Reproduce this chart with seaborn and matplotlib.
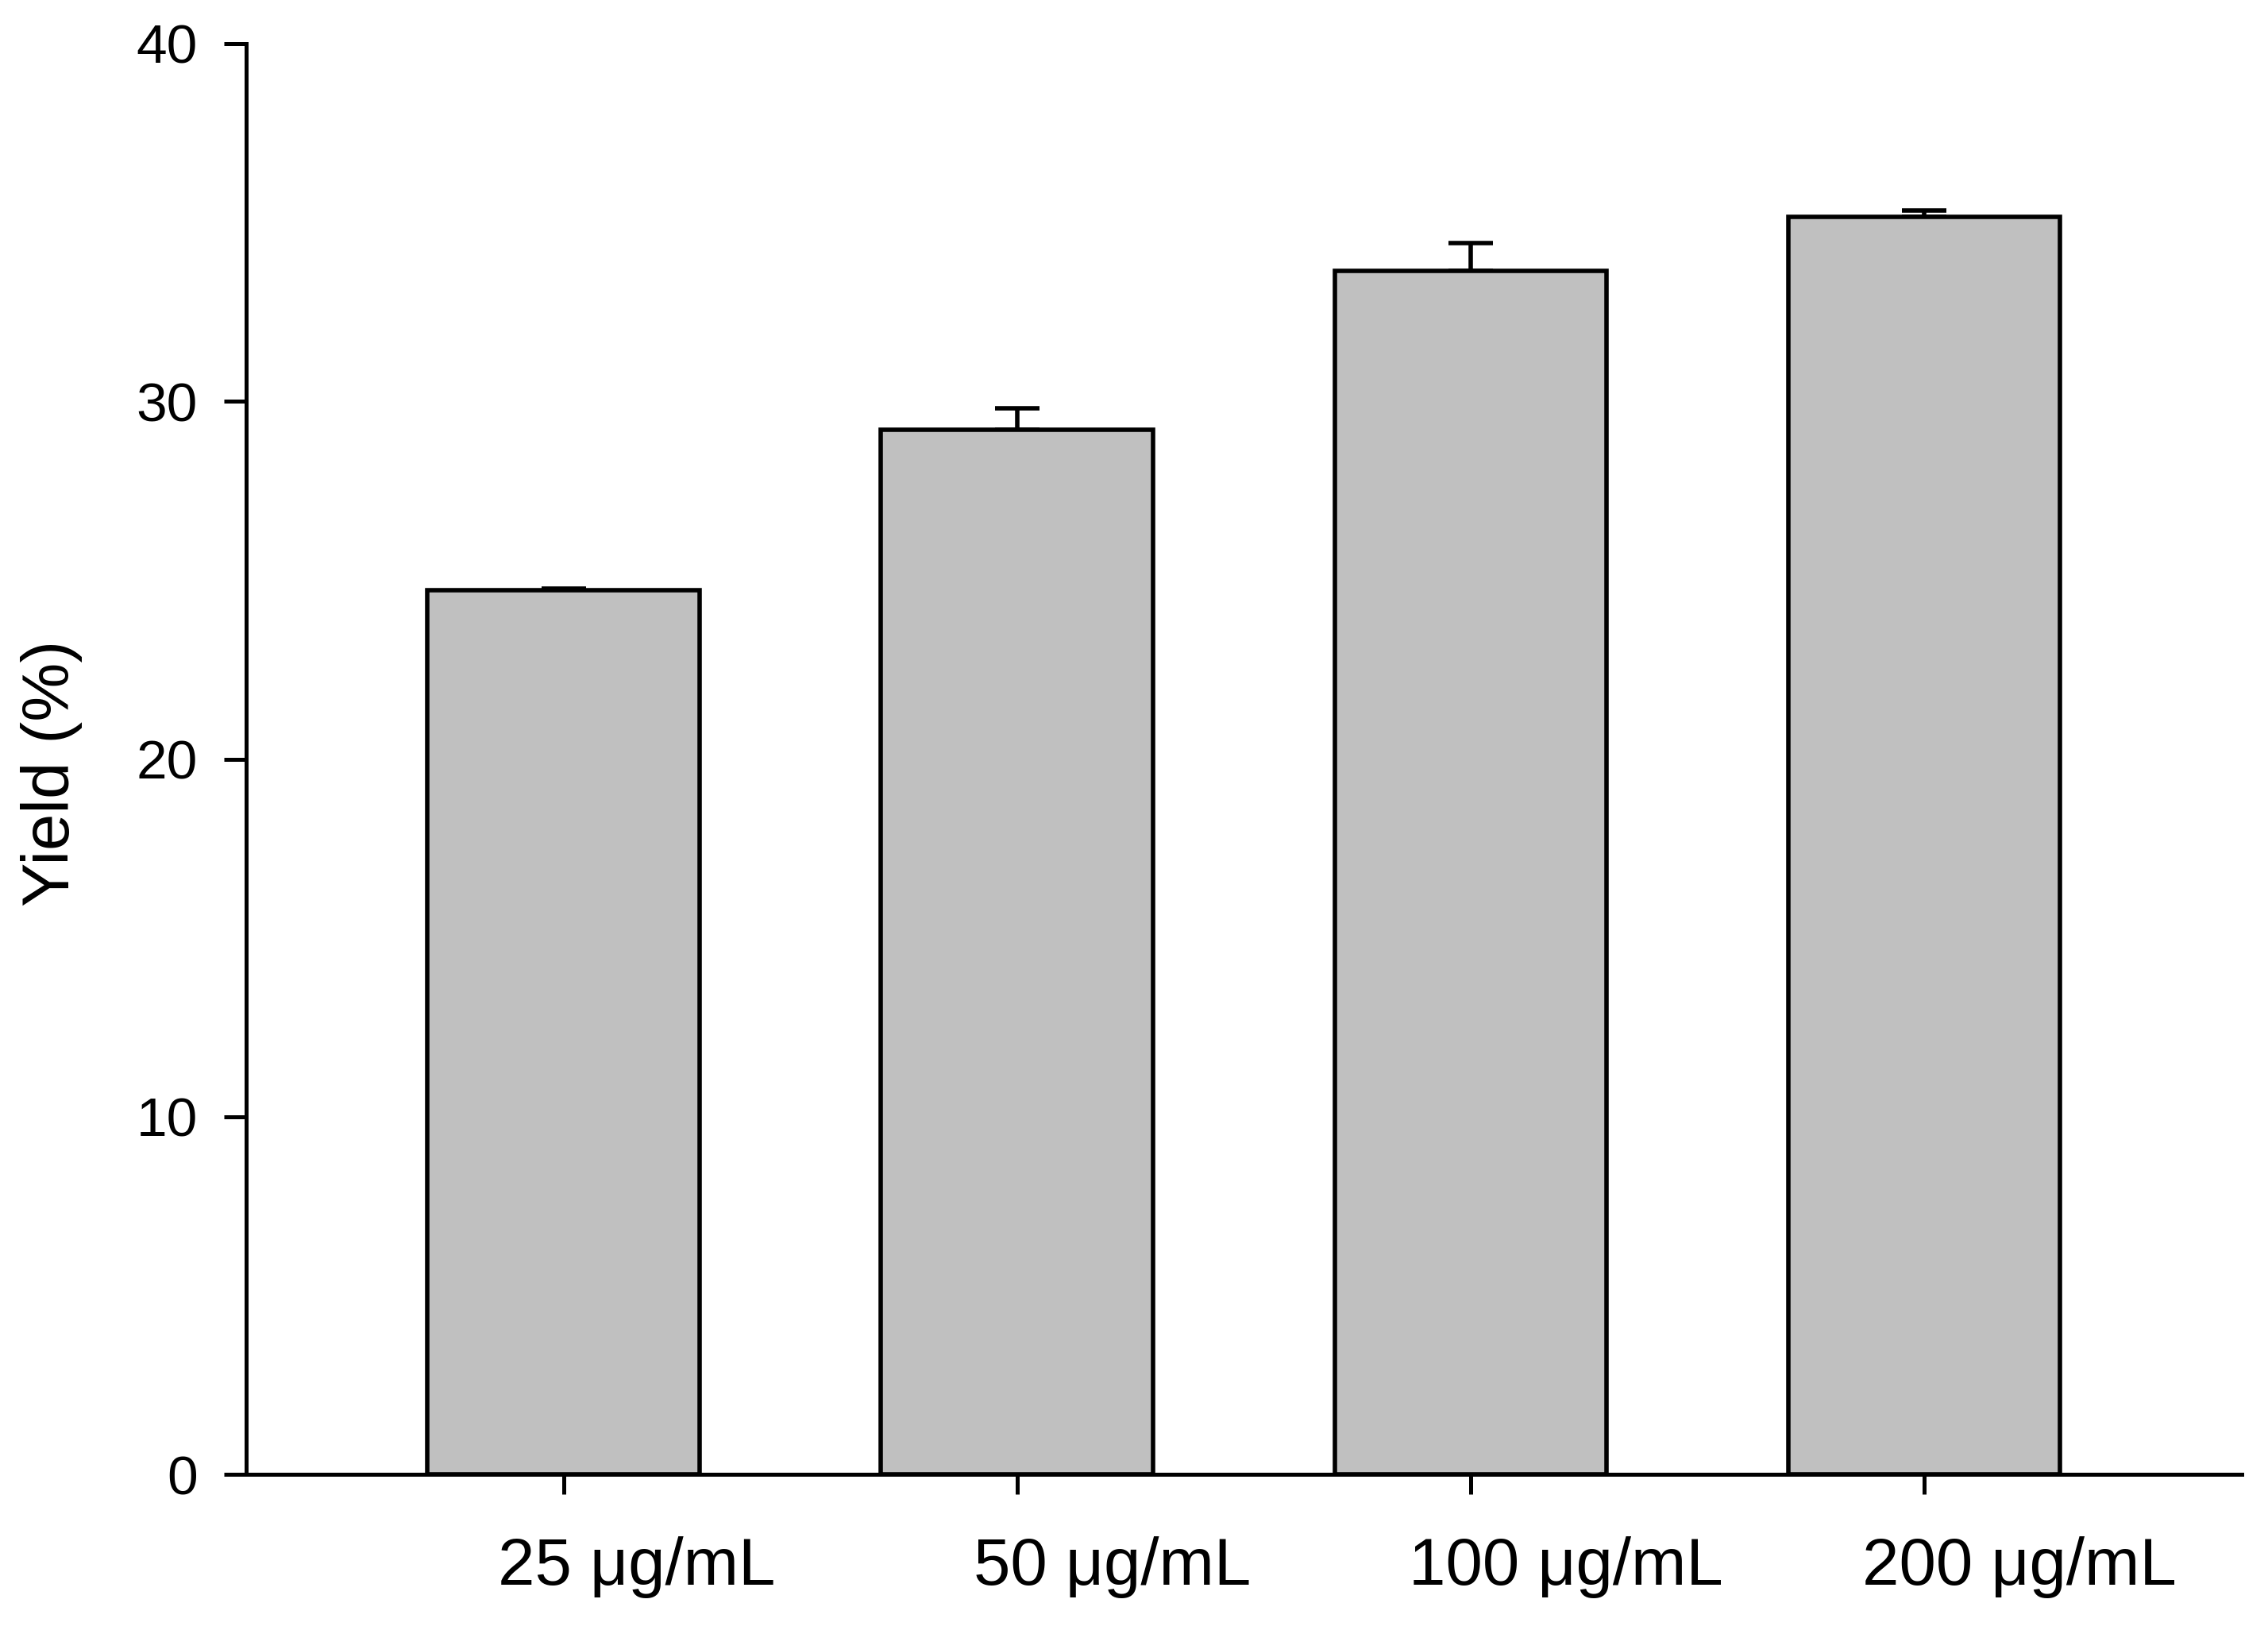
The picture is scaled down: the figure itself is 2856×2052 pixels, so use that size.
import numpy as np
import pandas as pd
import matplotlib
matplotlib.use("Agg")
import matplotlib.pyplot as plt
import matplotlib.transforms as mtransforms
import seaborn as sns

# Values
concentrations = ["25 \u03bcg/mL", "50 \u03bcg/mL", "100 \u03bcg/mL", "200 \u03bcg/mL"]
yield_mean = [24.71, 29.20, 33.64, 35.16]
yield_err = [0.06, 0.60, 0.78, 0.17]
y_ticks = [0, 10, 20, 30, 40]

sns.set_style("ticks")
plt.rcParams['font.family'] = ['Liberation Sans', 'DejaVu Sans']
plt.rcParams.update({"text.color": "black", "axes.labelcolor": "black",
                     "xtick.color": "black", "ytick.color": "black",
                     "axes.edgecolor": "black"})

df = pd.DataFrame({"conc": concentrations, "yield": yield_mean})

fig = plt.figure(figsize=(14.28, 10.26), dpi=200)
ax = fig.add_axes([0.1085, 0.0955, 0.9884 - 0.1085, 0.9732 - 0.0955])

sns.barplot(data=df, x="conc", y="yield", order=concentrations, color="#c0c0c0",
            saturation=1, width=0.6, errorbar=None, edgecolor="black",
            linewidth=2.0, ax=ax)

# upper-only error bars at the bar centres
centers = [p.get_x() + p.get_width() / 2 for p in ax.patches]
ax.errorbar(centers, yield_mean, yerr=[np.zeros(len(yield_err)), yield_err],
            fmt="none", ecolor="black", elinewidth=2.0, capsize=10,
            capthick=2.0, zorder=1)
for p in ax.patches:
    p.set_zorder(2)

ax.set_xlim(-0.70, 3.70)
ax.set_ylim(0, 40)
ax.set_yticks(y_ticks)
ax.set_xlabel("")
ax.set_ylabel("Yield (%)", fontsize=30, color="black")
ax.yaxis.set_label_coords(-0.082, 0.49)

sns.despine(ax=ax)
for s in ["left", "bottom"]:
    ax.spines[s].set_linewidth(1.8)
    ax.spines[s].set_color("black")
ax.tick_params(axis="y", labelsize=25, length=10, width=1.8, pad=12, direction="out",
               colors="black")
ax.tick_params(axis="x", labelsize=30, length=9, width=1.8, pad=19, direction="out",
               colors="black")

# the category labels sit a little to the right of their ticks in the original
label_shift_pt = [33, 43, 43, 43]
for lab, dx in zip(ax.get_xticklabels(), label_shift_pt):
    lab.set_transform(lab.get_transform() +
                      mtransforms.ScaledTranslation(dx / 72, 0, fig.dpi_scale_trans))

fig.savefig("out.png", dpi=200, facecolor="white")
